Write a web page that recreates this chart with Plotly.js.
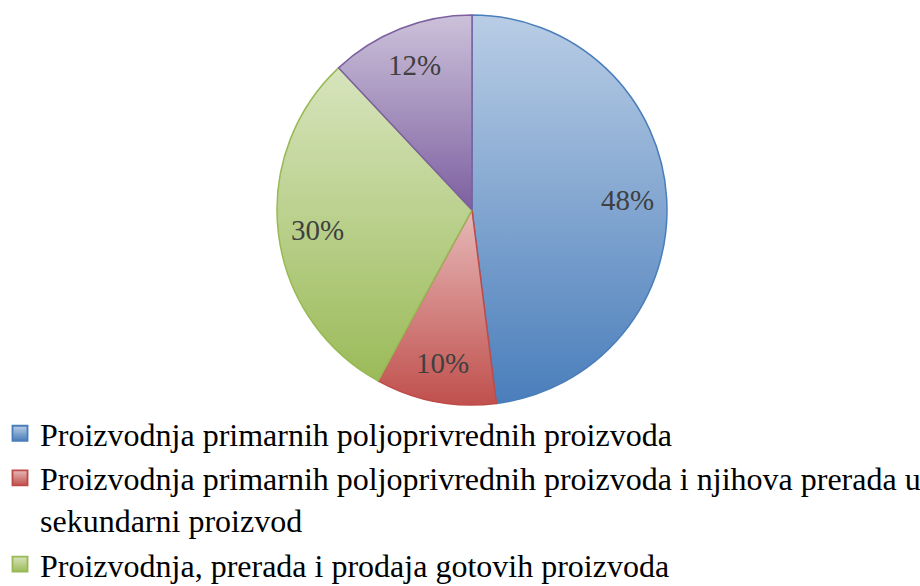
<!DOCTYPE html>
<html>
<head>
<meta charset="utf-8">
<script src="https://cdn.plot.ly/plotly-3.0.1.min.js"></script>
<style>
html,body{margin:0;padding:0;overflow:hidden;background:#fff;}
#chart{width:920px;height:680px;}
</style>
</head>
<body>
<div id="chart"></div>
<script>
const labels = [
  "Proizvodnja primarnih poljoprivrednih proizvoda",
  "Proizvodnja primarnih poljoprivrednih proizvoda i njihova prerada u<br>sekundarni proizvod",
  "Proizvodnja, prerada i prodaja gotovih proizvoda",
  "Prodaja gotovih proizvoda"
];
const values = [48, 10, 30, 12];
const midColors = ["#86a8d6", "#d6898a", "#bdd38f", "#a694c2"];
const topColors = ["#b9cde5", "#e6b9b8", "#d7e4bd", "#ccc1da"];
const bottomColors = ["#4a7ebb", "#c0504d", "#9bbb59", "#7d60a0"];
const lineColors = ["#4a7ebb", "#be4b48", "#98b954", "#7d60a0"];

const SERIF = "'Liberation Serif', 'Times New Roman', Times, serif";
const W = 920, H = 680;
const CX = 472, CY = 210, R = 195, LABEL_R = 0.8;

// percentage labels placed at each slice's mid-angle (computed from values)
const total = values.reduce(function(a, b){ return a + b; }, 0);
let acc = 0;
const annotations = values.map(function(v){
  const mid = (acc + v / 2) / total * 2 * Math.PI;
  acc += v;
  const px = CX + LABEL_R * R * Math.sin(mid);
  const py = CY - LABEL_R * R * Math.cos(mid);
  return {
    xref: "paper", yref: "paper",
    x: px / W, y: 1 - py / H,
    xanchor: "center", yanchor: "middle",
    showarrow: false,
    text: Math.round(v / total * 100) + "%",
    font: {family: SERIF, size: 29, color: "#404040"}
  };
});

const trace = {
  type: "pie",
  labels: labels,
  values: values,
  sort: false,
  direction: "clockwise",
  rotation: 0,
  textinfo: "none",
  marker: {colors: midColors, line: {color: lineColors, width: 1.5}},
  domain: {x: [(CX - R) / W, (CX + R) / W], y: [1 - (CY + R) / H, 1 - (CY - R) / H]},
  hoverinfo: "none"
};
const layout = {
  width: W, height: H,
  margin: {l: 0, r: 0, t: 0, b: 0},
  paper_bgcolor: "#fff",
  showlegend: true,
  annotations: annotations,
  legend: {
    x: 0, xanchor: "left", y: 1 - 406 / H, yanchor: "top",
    orientation: "v", valign: "top",
    font: {family: SERIF, size: 32, color: "#000"},
    bgcolor: "rgba(0,0,0,0)"
  }
};
Plotly.newPlot("chart", [trace], layout, {staticPlot: true}).then(function(gd){
  const svg = gd.querySelector("svg.main-svg");
  let defs = svg.querySelector("defs");
  const ns = "http://www.w3.org/2000/svg";
  topColors.forEach(function(c, i){
    const g = document.createElementNS(ns, "linearGradient");
    g.setAttribute("id", "sliceGrad" + i);
    g.setAttribute("x1", "0"); g.setAttribute("y1", "0");
    g.setAttribute("x2", "0"); g.setAttribute("y2", "1");
    const s1 = document.createElementNS(ns, "stop");
    s1.setAttribute("offset", "0"); s1.setAttribute("stop-color", c);
    const s2 = document.createElementNS(ns, "stop");
    s2.setAttribute("offset", "1"); s2.setAttribute("stop-color", bottomColors[i]);
    g.appendChild(s1); g.appendChild(s2);
    defs.appendChild(g);
  });
  gd.querySelectorAll("g.slice path.surface").forEach(function(p, i){
    p.style.fill = "url(#sliceGrad" + i + ")";
  });
  gd.querySelectorAll("g.legendpoints path.legendpie").forEach(function(p, i){
    p.style.fill = "url(#sliceGrad" + i + ")";
    const t = p.getAttribute("transform") || "";
    p.setAttribute("transform", t + " scale(1.25)");
  });
});
</script>
</body>
</html>
